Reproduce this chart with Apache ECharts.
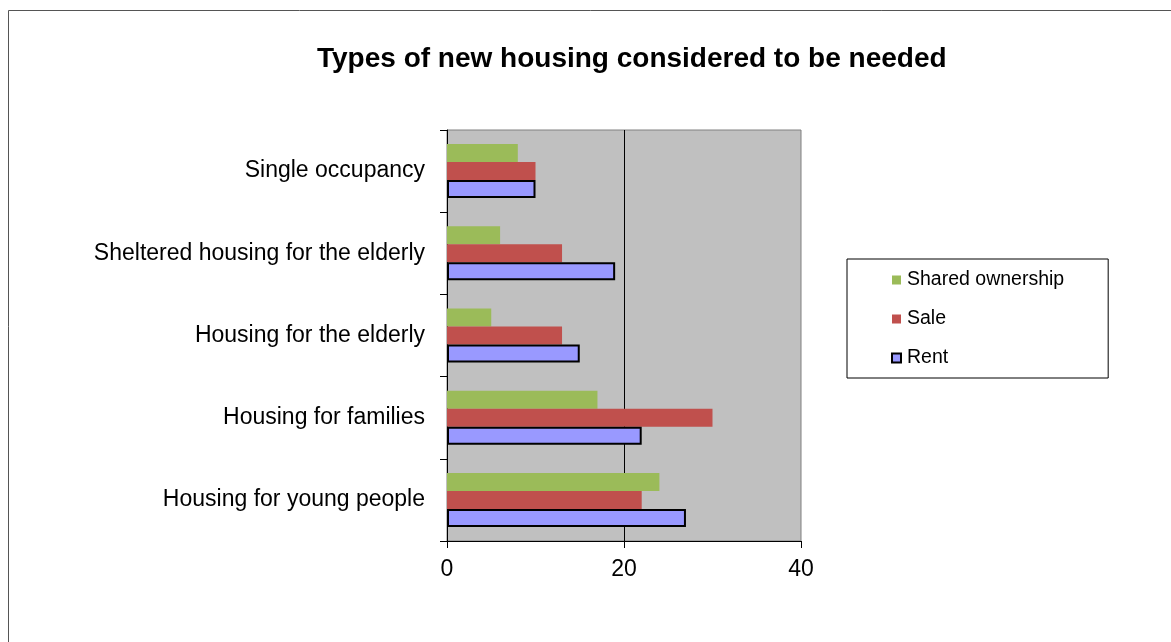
<!DOCTYPE html>
<html>
<head>
<meta charset="utf-8">
<script src="https://cdn.jsdelivr.net/npm/echarts@6/dist/echarts.min.js"></script>
<style>html,body{margin:0;padding:0;background:#fff;}#c{width:1171px;height:642px;}</style>
</head>
<body>
<div id="c"></div>
<script>
const categories = ['Housing for young people', 'Housing for families', 'Housing for the elderly', 'Sheltered housing for the elderly', 'Single occupancy'];
const rent = [27, 22, 15, 19, 10];
const sale = [22, 30, 13, 13, 10];
const shared = [24, 17, 5, 6, 8];
const xTicks = [0, 20, 40];

const FONT = '"Liberation Sans", Arial, sans-serif';
const chart = echarts.init(document.getElementById('c'));
chart.setOption({
  animation: false,
  backgroundColor: '#fff',
  graphic: [{
    type: 'rect', shape: { x: 8.5, y: 10.5, width: 1300, height: 800 },
    style: { fill: 'none', stroke: '#555', lineWidth: 1 }, silent: true, z: -10
  }],
  title: {
    text: 'Types of new housing considered to be needed',
    left: 312, top: 40,
    textStyle: { fontFamily: FONT, fontSize: 28, fontWeight: 'bold', color: '#000' }
  },
  legend: {
    orient: 'vertical', left: 847, top: 259,
    data: ['Shared ownership', 'Sale', 'Rent'],
    icon: 'rect',
    itemWidth: 9, itemHeight: 9, itemGap: 19,
    padding: [11, 44, 10, 44],
    borderColor: '#000', borderWidth: 1, backgroundColor: '#fff',
    textStyle: { fontFamily: FONT, fontSize: 19.5, color: '#000', padding: [0, 0, 0, 1] }
  },
  grid: {
    left: 447, top: 130, width: 354, height: 411,
    show: true, backgroundColor: '#C0C0C0', borderColor: '#808080', borderWidth: 1
  },
  xAxis: {
    type: 'value', min: xTicks[0], max: xTicks[xTicks.length - 1], interval: 20,
    axisLine: { show: true, lineStyle: { color: '#000', width: 1 } },
    axisTick: { show: true, length: 7, lineStyle: { color: '#000' } },
    axisLabel: { fontFamily: FONT, fontSize: 23, color: '#000', margin: 17 },
    splitLine: { show: true, lineStyle: { color: ['rgba(0,0,0,0)', '#000', 'rgba(0,0,0,0)'], width: 1 } }
  },
  yAxis: {
    type: 'category', data: categories,
    axisLine: { show: true, lineStyle: { color: '#000', width: 1 } },
    axisTick: { show: true, length: 7, lineStyle: { color: '#000' } },
    axisLabel: { fontFamily: FONT, fontSize: 23, color: '#000', margin: 22 }
  },
  series: [
    { name: 'Shared ownership', type: 'bar', data: shared, barWidth: 18, barGap: '0%',
      itemStyle: { color: '#9BBB59' } },
    { name: 'Sale', type: 'bar', data: sale, barWidth: 18, barGap: '0%',
      itemStyle: { color: '#C0504D' } },
    { name: 'Rent', type: 'bar', data: rent, barWidth: 18, barGap: '0%',
      itemStyle: { color: '#9999FF', borderColor: '#000', borderWidth: 2 } }
  ]
});
</script>
</body>
</html>
